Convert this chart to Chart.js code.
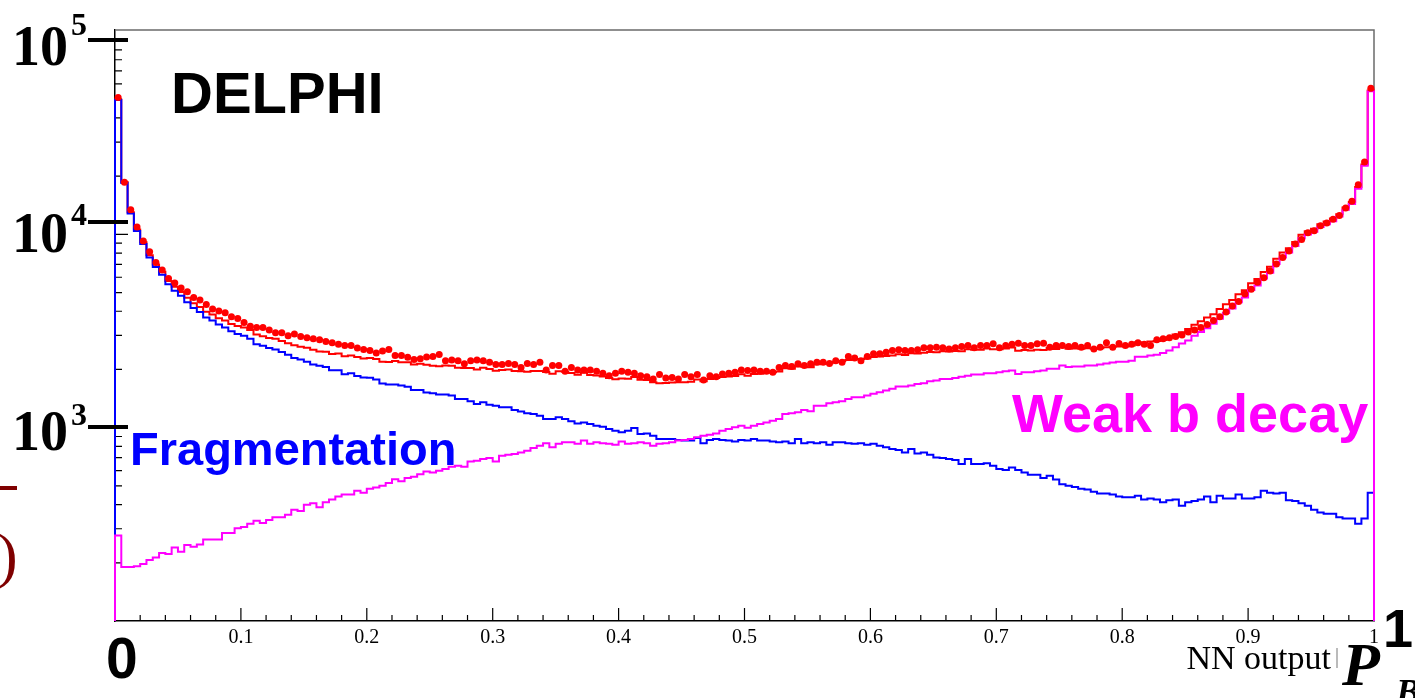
<!DOCTYPE html>
<html>
<head>
<meta charset="utf-8">
<script src="https://cdn.jsdelivr.net/npm/chart.js@4.4.1/dist/chart.umd.min.js"></script>
<style>
  body { margin: 0; background: #fff; }
  #wrap { width: 1415px; height: 698px; }
</style>
</head>
<body>
<div id="wrap"><canvas id="myChart" width="1415" height="698"></canvas></div>
<script>
// NN output histogram, 200 bins of 0.005 from 0 to 1
var binWidth = 0.005
var xTicks = [0.1, 0.2, 0.3, 0.4, 0.5, 0.6, 0.7, 0.8, 0.9, 1]

// Fragmentation (blue)
var fragmentation = [
  49500, 18450, 12800, 10400, 8900, 7590, 6770, 6180, 5520, 5110,
  4810, 4450, 4160, 3960, 3710, 3580, 3420, 3300, 3150, 3050,
  2990, 2880, 2700, 2650, 2580, 2540, 2460, 2380, 2290, 2250,
  2190, 2120, 2090, 2060, 1980, 1980, 1890, 1910, 1850, 1820,
  1810, 1775, 1690, 1670, 1670, 1650, 1630, 1565, 1565, 1520,
  1506, 1483, 1483, 1465, 1409, 1409, 1369, 1327, 1352, 1315,
  1300, 1274, 1274, 1235, 1211, 1186, 1178, 1154, 1109, 1109,
  1131, 1109, 1078, 1052, 1065, 1045, 1024, 1012, 984, 965,
  946, 965, 996, 927, 932, 909, 873, 873, 873, 863,
  857, 857, 885, 830, 863, 873, 863, 857, 849, 863,
  857, 873, 857, 857, 849, 841, 849, 830, 873, 830,
  841, 830, 841, 817, 841, 841, 830, 825, 830, 817,
  825, 807, 791, 775, 766, 745, 775, 736, 745, 724,
  702, 696, 688, 681, 649, 688, 649, 649, 655, 635,
  611, 604, 622, 604, 586, 570, 570, 549, 564, 540,
  510, 500, 494, 483, 479, 466, 457, 457, 451, 441,
  437, 437, 445, 425, 430, 425, 411, 421, 425, 394,
  411, 418, 425, 441, 411, 445, 430, 430, 451, 430,
  430, 437, 472, 461, 457, 461, 421, 418, 406, 394,
  376, 364, 359, 359, 344, 339, 339, 318, 339, 461
]

// Weak b decay (magenta)
var weakB = [
  277, 190, 190, 192, 197, 207, 213, 225, 222, 240,
  228, 247, 242, 249, 264, 264, 264, 285, 285, 302,
  306, 318, 330, 321, 333, 344, 344, 354, 376, 371,
  399, 406, 388, 411, 425, 441, 451, 451, 472, 461,
  483, 490, 500, 517, 541, 529, 549, 558, 574, 593,
  586, 598, 611, 628, 635, 628, 669, 675, 688, 696,
  669, 716, 724, 731, 745, 760, 785, 807, 830, 791,
  825, 840, 840, 825, 857, 825, 840, 830, 825, 817,
  849, 825, 830, 840, 830, 807, 825, 830, 840, 857,
  863, 873, 891, 909, 920, 932, 965, 984, 1004, 1024,
  998, 1024, 1045, 1065, 1087, 1109, 1178, 1186, 1200, 1235,
  1215, 1300, 1300, 1336, 1352, 1369, 1409, 1435, 1435, 1465,
  1496, 1525, 1557, 1588, 1631, 1631, 1651, 1684, 1696, 1738,
  1752, 1787, 1787, 1809, 1836, 1857, 1883, 1883, 1910, 1910,
  1935, 1960, 1973, 1897, 1935, 1935, 1960, 1973, 2015, 2015,
  2094, 2060, 2075, 2075, 2094, 2094, 2120, 2150, 2170, 2190,
  2190, 2220, 2324, 2324, 2360, 2380, 2430, 2510, 2605, 2723,
  2826, 2985, 3125, 3268, 3452, 3660, 3924, 4140, 4453, 4707,
  5157, 5443, 5911, 6328, 7027, 7591, 8054, 8706, 9533, 9970,
  10300, 10920, 11280, 11700, 12350, 13410, 14350, 17230, 22640, 55000
]

// data points (red dots)
var dataPoints = [
  51000, 18600, 13400, 10900, 9230, 8120, 7150, 6530, 5910, 5600,
  5280, 5040, 4710, 4580, 4340, 4110, 4010, 3930, 3750, 3670,
  3500, 3350, 3300, 3300, 3200, 3100, 3100, 2990, 3050, 2960,
  2920, 2880, 2850, 2790, 2750, 2700, 2660, 2660, 2580, 2540,
  2510, 2430, 2490, 2540, 2360, 2360, 2310, 2250, 2270, 2320,
  2335, 2390, 2220, 2240, 2220, 2140, 2220, 2240, 2220, 2180,
  2120, 2120, 2150, 2120, 2050, 2150, 2120, 2180, 1990, 2094,
  2094, 1960, 2050, 1990, 1990, 1990, 1960, 1910, 1857, 1910,
  1960, 1935, 1910, 1857, 1836, 1787, 1883, 1809, 1820, 1787,
  1883, 1836, 1883, 1765, 1857, 1836, 1897, 1910, 1935, 1990,
  1973, 1990, 1960, 1960, 1935, 2050, 2094, 2070, 2140, 2094,
  2140, 2180, 2180, 2150, 2220, 2180, 2335, 2295, 2220, 2335,
  2410, 2410, 2455, 2506, 2530, 2506, 2506, 2530, 2590, 2590,
  2606, 2590, 2555, 2590, 2630, 2660, 2590, 2660, 2660, 2717,
  2590, 2660, 2700, 2737, 2660, 2660, 2717, 2737, 2606, 2660,
  2660, 2630, 2660, 2605, 2660, 2550, 2605, 2750, 2605, 2723,
  2660, 2700, 2750, 2700, 2660, 2850, 2880, 2920, 2960, 3016,
  3125, 3200, 3300, 3420, 3580, 3750, 3960, 4256, 4500, 4920,
  5200, 5650, 5970, 6470, 7027, 7591, 8200, 8910, 9400, 10200,
  10440, 11080, 11450, 11970, 12530, 13700, 14820, 18030, 23700, 57000
]

var yMin = 100, yMax = 114000

// step outline of a histogram, closed down to the axis at both ends
function histPoints(vals) {
  var pts = [{x: 0, y: yMin}]
  for (var i = 0; i < vals.length; i++) pts.push({x: i * binWidth, y: vals[i]})
  pts.push({x: vals.length * binWidth, y: vals[vals.length - 1]})
  pts.push({x: vals.length * binWidth, y: yMin})
  return pts
}

var total = fragmentation.map(function(v, i) { return v + weakB[i] })
var dots = dataPoints.map(function(v, i) { return {x: (i + 0.5) * binWidth, y: v} })

var decor = {
  id: 'decor',
  beforeDatasetsDraw: function(chart) {
    var ctx = chart.ctx, xs = chart.scales.x, ys = chart.scales.y, a = chart.chartArea
    ctx.save()
    // frame top and right
    ctx.strokeStyle = '#6b6b6b'
    ctx.lineWidth = 1.5
    ctx.beginPath()
    ctx.moveTo(a.left, a.top); ctx.lineTo(a.right, a.top); ctx.lineTo(a.right, a.bottom)
    ctx.stroke()
    // inward ticks
    ctx.strokeStyle = '#000'
    ctx.lineWidth = 1.2
    ctx.beginPath()
    for (var k = 1; k < 50; k++) {
      var px = xs.getPixelForValue(k * 0.02)
      var len = (k % 5 === 0) ? 13 : 6
      ctx.moveTo(px, a.bottom); ctx.lineTo(px, a.bottom - len)
    }
    var decades = [100, 1000, 10000, 100000]
    decades.forEach(function(d) {
      for (var m = 1; m <= 9; m++) {
        var v = m * d
        if (v <= yMin || v > yMax) continue
        var py = ys.getPixelForValue(v)
        ctx.moveTo(a.left, py); ctx.lineTo(a.left + (m === 1 ? 13 : 7), py)
      }
    })
    ctx.stroke()
    ctx.restore()
  },
  afterDraw: function(chart) {
    var ctx = chart.ctx
    ctx.save()
    ctx.textBaseline = 'alphabetic'
    ctx.textAlign = 'left'
    // power-of-ten labels with their marks
    var labs = [['5', 65, 35, 40], ['4', 252, 225, 222], ['3', 450, 425, 427]]
    ctx.fillStyle = '#000'
    ctx.strokeStyle = '#000'
    ctx.lineWidth = 4
    labs.forEach(function(l) {
      ctx.font = 'bold 56px "Liberation Serif"'
      ctx.fillText('10', 12, l[1])
      ctx.font = 'bold 32px "Liberation Serif"'
      ctx.fillText(l[0], 71, l[2])
      ctx.beginPath(); ctx.moveTo(88, l[3]); ctx.lineTo(128, l[3]); ctx.stroke()
    })
    ctx.font = 'bold 58px "Liberation Sans"'
    ctx.fillText('DELPHI', 171, 113)
    ctx.fillStyle = '#0000ff'
    ctx.font = 'bold 47px "Liberation Sans"'
    ctx.fillText('Fragmentation', 130, 465)
    ctx.fillStyle = '#ff00ff'
    ctx.font = 'bold 54px "Liberation Sans"'
    ctx.fillText('Weak b decay', 1012, 432)
    // axis title and overlay labels
    ctx.fillStyle = '#000'
    ctx.font = '34px "Liberation Serif"'
    ctx.textAlign = 'right'
    ctx.fillText('NN output', 1331, 669)
    ctx.fillStyle = '#bbb'
    ctx.fillRect(1336, 648, 2, 20)
    ctx.fillStyle = '#000'
    ctx.textAlign = 'left'
    ctx.font = 'bold 57px "Liberation Sans"'
    ctx.fillText('0', 106, 678)
    ctx.font = 'bold 54px "Liberation Sans"'
    ctx.fillText('1', 1383, 647)
    ctx.font = 'bold italic 62px "Liberation Serif"'
    ctx.fillText('P', 1342, 685)
    ctx.font = 'bold italic 36px "Liberation Serif"'
    ctx.fillText('B', 1396, 704)
    // cut-off fragments at the left edge
    ctx.fillStyle = '#7f0000'
    ctx.fillRect(0, 486, 17, 4)
    ctx.font = '62px "Liberation Serif"'
    ctx.fillText(')', -3, 576)
    ctx.restore()
  }
}

var chart = new Chart(document.getElementById('myChart').getContext('2d'), {
  type: 'line',
  data: {
    datasets: [
      {
        label: 'Data', type: 'scatter', data: dots, order: 0,
        backgroundColor: '#ff0000', borderColor: '#ff0000',
        pointRadius: 3.5, pointBorderWidth: 0, showLine: false, clip: false
      },
      {
        label: 'Weak b decay', data: histPoints(weakB), order: 1,
        borderColor: '#ff00ff', borderWidth: 2, stepped: 'before',
        pointRadius: 0, fill: false, clip: 3
      },
      {
        label: 'Fragmentation', data: histPoints(fragmentation), order: 2,
        borderColor: '#0000ff', borderWidth: 2, stepped: 'before',
        pointRadius: 0, fill: false, clip: 3
      },
      {
        label: 'Total', data: histPoints(total), order: 3,
        borderColor: '#ff0000', borderWidth: 2, stepped: 'before',
        pointRadius: 0, fill: false, clip: 3
      }
    ]
  },
  options: {
    responsive: false,
    devicePixelRatio: 1,
    animation: false,
    layout: { padding: { top: 30, right: 41, left: 0, bottom: 0 } },
    plugins: { legend: { display: false }, tooltip: { enabled: false } },
    scales: {
      x: {
        type: 'linear', min: 0, max: 1,
        grid: { display: false },
        border: { display: true, color: '#000', width: 1.5 },
        afterBuildTicks: function(scale) {
          scale.ticks = xTicks.map(function(v) { return {value: v} })
        },
        ticks: {
          autoSkip: false, maxRotation: 0, padding: -3, color: '#000',
          font: { family: 'Liberation Serif', size: 20 },
          callback: function(v) { return v === 1 ? '1' : v.toFixed(1) }
        },
        afterFit: function(scale) { scale.height = 77 }
      },
      y: {
        type: 'logarithmic', min: yMin, max: yMax,
        grid: { display: false },
        border: { display: true, color: '#000', width: 1.5 },
        ticks: { display: false },
        afterFit: function(scale) { scale.width = 115 }
      }
    }
  },
  plugins: [decor]
})
</script>
</body>
</html>
